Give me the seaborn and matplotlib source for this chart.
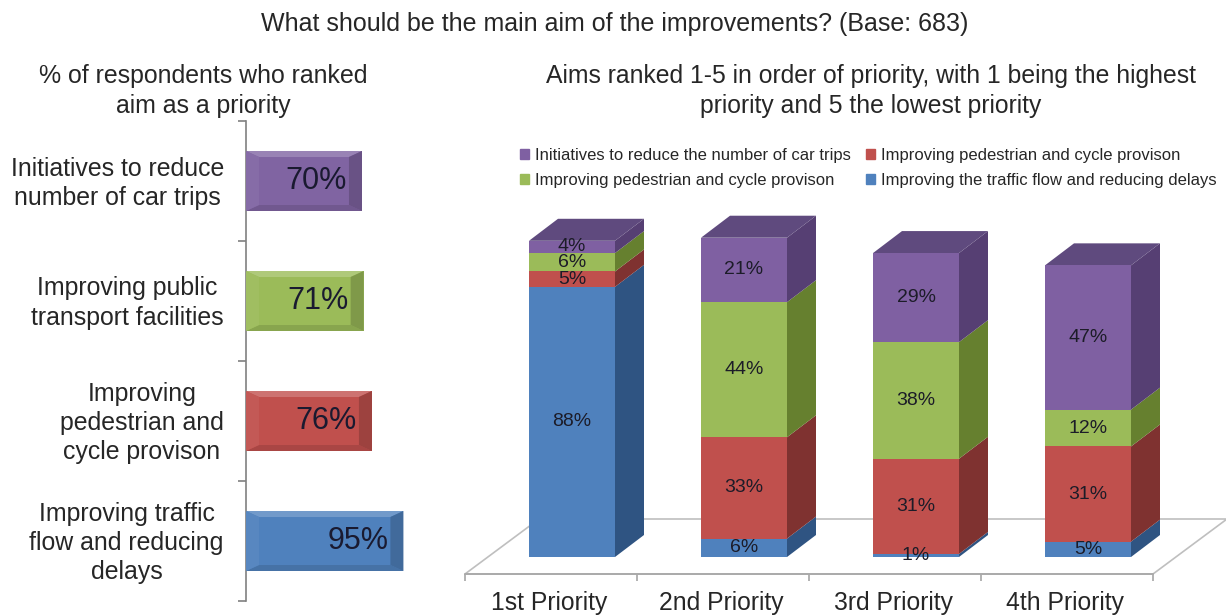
"""Stacked priorities chart with a faux 3D look, plus a bevelled bar chart."""
import numpy as np
import matplotlib
matplotlib.use("Agg")
import matplotlib.pyplot as plt
from matplotlib.patches import Patch, Polygon
from matplotlib.transforms import ScaledTranslation
import seaborn as sns

# ── Data ─────────────────────────────────────────────────────────────────────
aim_labels = [
    "Initiatives to reduce\nnumber of car trips",
    "Improving public\ntransport facilities",
    "Improving\npedestrian and\ncycle provison",
    "Improving traffic\nflow and reducing\ndelays",
]
aim_pct = [70, 71, 76, 95]

priorities = ["1st Priority", "2nd Priority", "3rd Priority", "4th Priority"]
traffic = [88, 6, 1, 5]
pedestrian = [5, 33, 31, 31]
transport = [6, 44, 38, 12]
initiatives = [4, 21, 29, 47]

legend_labels = [
    "Initiatives to reduce the number of car trips",
    "Improving pedestrian and cycle provison",
    "Improving pedestrian and cycle provison",
    "Improving the traffic flow and reducing delays",
]

# Colours: front, side, top
BLUE = ("#4F81BD", "#2F5482")
RED = ("#C0504D", "#7F3230")
GREEN = ("#9BBB59", "#66802F")
PURPLE = ("#7F60A2", "#563F73")
PURPLE_TOP = "#5F4A7E"
aim_colors = ["#8064A2", "#9BBB59", "#C0504D", "#4F81BD"]

W, H = 1226, 616
TEXT = "#262626"

sns.set_theme(style="white")
plt.rcParams["font.family"] = ["Liberation Sans", "DejaVu Sans"]
plt.rcParams["text.color"] = TEXT

fig = plt.figure(figsize=(W / 100, H / 100), dpi=100)


def px_axes(left, top, right, bottom):
    """Axes placed by pixel edges, measured from the top-left of the figure."""
    return fig.add_axes([left / W, 1 - bottom / H, (right - left) / W, (bottom - top) / H])


def shade(color, amount):
    """Blend towards white (amount > 0) or black (amount < 0)."""
    rgb = np.array(matplotlib.colors.to_rgb(color))
    target = 1.0 if amount > 0 else 0.0
    return tuple(rgb + (target - rgb) * abs(amount))


# ── Left: bevelled horizontal bars ───────────────────────────────────────────
PX_PER_PCT = 1.657
ax_l = px_axes(246, 121, 420, 601)
sns.barplot(x=aim_pct, y=aim_labels, hue=aim_labels, palette=aim_colors,
            orient="h", width=0.5, legend=False, saturation=1, linewidth=0, ax=ax_l)
ax_l.set_xlim(0, 174 / PX_PER_PCT)
ax_l.set_ylim(3.5, -0.5)
ax_l.set_xlabel("")
ax_l.set_ylabel("")
ax_l.set_xticks([])
ax_l.set_yticks(np.arange(5) - 0.5, minor=True)
ax_l.tick_params(axis="y", which="major", length=0, pad=16, labelsize=17.9, labelcolor=TEXT)
ax_l.tick_params(axis="y", which="minor", left=True, length=6, width=1.2, color="#808080")
nudge_up = ScaledTranslation(0, 3 / 100, fig.dpi_scale_trans)
for lab in ax_l.get_yticklabels():
    lab.set_multialignment("center")
    lab.set_linespacing(1.28)
    lab.set_transform(lab.get_transform() + nudge_up)
for side in ["top", "right", "bottom"]:
    ax_l.spines[side].set_visible(False)
ax_l.spines["left"].set_color("#808080")
ax_l.spines["left"].set_linewidth(1.2)

bev_x = 13 / PX_PER_PCT
bev_y = 6 / 120
for i, (pct, col) in enumerate(zip(aim_pct, aim_colors)):
    y0, y1 = i - 0.25, i + 0.25
    faces = [
        ([(0, y0), (pct, y0), (pct - bev_x, y0 + bev_y), (bev_x, y0 + bev_y)], 0.2),
        ([(0, y1), (pct, y1), (pct - bev_x, y1 - bev_y), (bev_x, y1 - bev_y)], -0.12),
        ([(0, y0), (bev_x, y0 + bev_y), (bev_x, y1 - bev_y), (0, y1)], 0.05),
        ([(pct, y0), (pct - bev_x, y0 + bev_y), (pct - bev_x, y1 - bev_y), (pct, y1)], -0.18),
    ]
    for pts, amount in faces:
        ax_l.add_patch(Polygon(pts, closed=True, facecolor=shade(col, amount), edgecolor="none", zorder=3))
    ax_l.text(pct - 15 / PX_PER_PCT, i, f"{pct}%", ha="right", va="center",
              fontsize=22, color="#1A1A30", zorder=4)

# ── Right: stacked bars with side and top faces ──────────────────────────────
PX_X = 172.0         # pixels per category
PX_Y = 3.07          # pixels per percentage point
ZERO_X, ZERO_Y = 572, 557
ax_r = px_axes(465, 200, 1226, ZERO_Y)
ax_r.patch.set_alpha(0)
ax_r.set_xlim((465 - ZERO_X) / PX_X, (1226 - ZERO_X) / PX_X)
ax_r.set_ylim(0, (ZERO_Y - 200) / PX_Y)

depth_x, depth_y = 29 / PX_X, 22 / PX_Y
front_x, front_y = -21 / PX_X, -17 / PX_Y
back_x, back_y = 53 / PX_X, 38 / PX_Y
x_lo, x_hi = -0.5 + front_x, 3.5 + front_x

# floor of the chart
floor = [(x_lo, front_y), (x_hi, front_y), (x_hi + back_x - front_x, back_y),
         (x_lo + back_x - front_x, back_y)]
ax_r.add_patch(Polygon(floor, closed=True, facecolor="white", edgecolor="#BFBFBF",
                       linewidth=1.2, clip_on=False, zorder=1))

series = [(traffic, BLUE), (pedestrian, RED), (transport, GREEN), (initiatives, PURPLE)]
bottoms = np.zeros(len(priorities))
half = 0.25
for vals, (front, side) in series:
    vals = np.array(vals, dtype=float)
    sns.barplot(x=priorities, y=vals, bottom=bottoms, color=front, width=0.5,
                saturation=1, linewidth=0, ax=ax_r, zorder=3)
    for i, (v, b) in enumerate(zip(vals, bottoms)):
        xr = i + half
        pts = [(xr, b), (xr, b + v), (xr + depth_x, b + v + depth_y), (xr + depth_x, b + depth_y)]
        ax_r.add_patch(Polygon(pts, closed=True, facecolor=side, edgecolor="none", zorder=2.5))
        ax_r.text(i, b + v / 2, f"{int(v)}%", ha="center", va="center", fontsize=14,
                  color="#1C1C28", zorder=5)
    bottoms = bottoms + vals

for i, total in enumerate(bottoms):
    pts = [(i - half, total), (i + half, total), (i + half + depth_x, total + depth_y),
           (i - half + depth_x, total + depth_y)]
    ax_r.add_patch(Polygon(pts, closed=True, facecolor=PURPLE_TOP, edgecolor="none", zorder=2.5))

ax_r.set_xlim((465 - ZERO_X) / PX_X, (1226 - ZERO_X) / PX_X)
ax_r.set_ylim(0, (ZERO_Y - 200) / PX_Y)
ax_r.set_ylabel("")
ax_r.set_yticks([])
for side in ["top", "right", "left"]:
    ax_r.spines[side].set_visible(False)
ax_r.spines["bottom"].set_position(("outward", 17 * 0.72))
ax_r.spines["bottom"].set_bounds(x_lo, x_hi)
ax_r.spines["bottom"].set_color("#A6A6A6")
ax_r.spines["bottom"].set_linewidth(1.2)
ax_r.set_xticks(np.arange(4) + front_x - 2 / PX_X, labels=priorities)
ax_r.set_xticks(np.arange(5) - 0.5 + front_x, minor=True)
ax_r.tick_params(axis="x", which="major", length=0, pad=12, labelsize=17.8, labelcolor=TEXT)
ax_r.tick_params(axis="x", which="minor", bottom=True, length=5, width=1.2, color="#A6A6A6")

handles = [Patch(color=PURPLE[0]), Patch(color=GREEN[0]), Patch(color=RED[0]), Patch(color=BLUE[0])]
fig.legend(handles, legend_labels, ncol=2, frameon=False, fontsize=12, labelcolor=TEXT,
           loc="upper left", bbox_to_anchor=(520 / W, 1 - 148 / H),
           handlelength=0.55, handleheight=0.55, handletextpad=0.35,
           columnspacing=0.9, labelspacing=0.62, borderpad=0, borderaxespad=0)

# ── Titles ───────────────────────────────────────────────────────────────────
fig.text(615 / W, 1 - 24 / H, "What should be the main aim of the improvements? (Base: 683)",
         ha="center", va="center", fontsize=18)
fig.text(203 / W, 1 - 91 / H, "% of respondents who ranked\naim as a priority",
         ha="center", va="center", fontsize=17.9, linespacing=1.28)
fig.text(871 / W, 1 - 91 / H,
         "Aims ranked 1-5 in order of priority, with 1 being the highest\n"
         "priority and 5 the lowest priority",
         ha="center", va="center", fontsize=17.8, linespacing=1.28)

fig.savefig("out.png", dpi=100)
